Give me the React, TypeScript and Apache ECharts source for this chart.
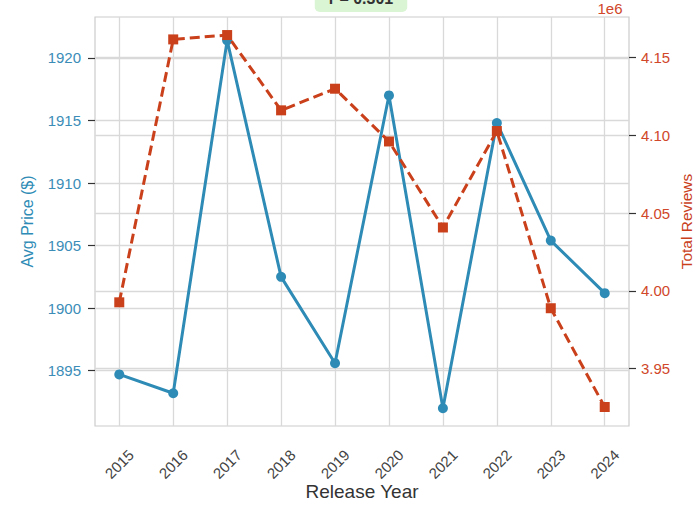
import React, { useEffect, useRef } from "react";
import * as echarts from "echarts";

const years = [2015, 2016, 2017, 2018, 2019, 2020, 2021, 2022, 2023, 2024];
const avgPrice = [1894.7, 1893.2, 1921.4, 1902.5, 1895.6, 1917.0, 1892.0, 1914.8, 1905.4, 1901.2];
const totalReviews = [3992700, 4161700, 4164500, 4116100, 4130000, 4096100, 4040800, 4102800, 3988900, 3925400];
const priceTicks = [1895, 1900, 1905, 1910, 1915, 1920];
const reviewTicks = [3950000, 4000000, 4050000, 4100000, 4150000];
const corrLabel = "r = 0.301";

const BLUE = "#2e8bb5";
const RED = "#c9401b";
const FONT = "Liberation Sans, Arial, sans-serif";

export default function App() {
  const ref = useRef<HTMLDivElement>(null);
  useEffect(() => {
    if (!ref.current) return;
    const chart = echarts.init(ref.current, undefined, { renderer: "svg" });
    const gridColor = "#d9d9d9";
    chart.setOption({
      animation: false,
      backgroundColor: "#ffffff",
      textStyle: { fontFamily: FONT },
      grid: {
        left: 95,
        right: 69,
        top: 17,
        bottom: 81,
        containLabel: false,
        outerBoundsMode: "none",
        show: true,
        borderColor: "#cccccc",
        borderWidth: 1.2,
        backgroundColor: "transparent",
      },
      xAxis: {
        type: "value",
        min: 2014.55,
        max: 2024.45,
        name: "Release Year",
        nameLocation: "middle",
        nameGap: 56,
        nameMoveOverlap: false,
        nameTextStyle: { fontSize: 19, color: "#333333", fontFamily: FONT },
        axisLine: { show: false },
        axisTick: { show: false, customValues: years },
        axisLabel: {
          customValues: years,
          rotate: 45,
          align: "center",
          verticalAlign: "middle",
          margin: 38,
          fontSize: 15,
          color: "#444444",
          formatter: (v: number) => String(Math.round(v)),
        },
        splitLine: { show: true, lineStyle: { color: gridColor, width: 1.3 } },
      },
      yAxis: [
        {
          type: "value",
          min: 1890.58,
          max: 1923.27,
          position: "left",
          name: "Avg Price ($)",
          nameLocation: "middle",
          nameGap: 60,
          nameTextStyle: { fontSize: 16, color: BLUE, fontFamily: FONT },
          axisLine: { show: false },
          axisTick: { show: true, customValues: priceTicks, length: 7, lineStyle: { color: "#333333", width: 1.2 } },
          axisLabel: {
            customValues: priceTicks,
            margin: 14,
            fontSize: 15,
            color: "#3b8db8",
            formatter: (v: number) => String(Math.round(v)),
          },
          splitLine: { show: true, lineStyle: { color: gridColor, width: 1.3 } },
        },
        {
          type: "value",
          min: 3913200,
          max: 4176100,
          position: "right",
          name: "Total Reviews",
          nameLocation: "middle",
          nameGap: 49,
          nameMoveOverlap: false,
          nameTextStyle: { fontSize: 15.5, color: RED, fontFamily: FONT },
          axisLine: { show: false },
          axisTick: { show: true, customValues: reviewTicks, length: 7, lineStyle: { color: "#333333", width: 1.2 } },
          axisLabel: {
            customValues: reviewTicks,
            margin: 12,
            fontSize: 15,
            color: "#d0472a",
            formatter: (v: number) => (v / 1e6).toFixed(2),
          },
          splitLine: { show: true, lineStyle: { color: gridColor, width: 1.3 } },
        },
      ],
      series: [
        {
          type: "line",
          yAxisIndex: 0,
          data: years.map((y, i) => [y, avgPrice[i]]),
          symbol: "circle",
          symbolSize: 10,
          lineStyle: { color: BLUE, width: 3 },
          itemStyle: { color: BLUE },
          z: 3,
        },
        {
          type: "line",
          yAxisIndex: 1,
          data: years.map((y, i) => [y, totalReviews[i]]),
          symbol: "rect",
          symbolSize: 10,
          lineStyle: { color: RED, width: 3, type: [10, 5] },
          itemStyle: { color: RED },
          z: 4,
        },
      ],
      graphic: [
        {
          type: "text",
          x: 361,
          y: -2,
          style: {
            text: corrLabel,
            fontSize: 16,
            fontWeight: "bold",
            fontFamily: FONT,
            fill: "#333333",
            align: "center",
            verticalAlign: "middle",
            backgroundColor: "#d9f5d3",
            padding: [6, 14],
            borderRadius: 5,
          },
          z: 10,
        },
        {
          type: "text",
          x: 610,
          y: 8,
          style: {
            text: "1e6",
            fontSize: 15,
            fontFamily: FONT,
            fill: "#d0472a",
            align: "center",
            verticalAlign: "middle",
          },
        },
      ],
    });
    return () => chart.dispose();
  }, []);
  return (
    <div
      ref={ref}
      style={{ position: "fixed", left: 0, top: 0, width: 698, height: 507 }}
    />
  );
}
